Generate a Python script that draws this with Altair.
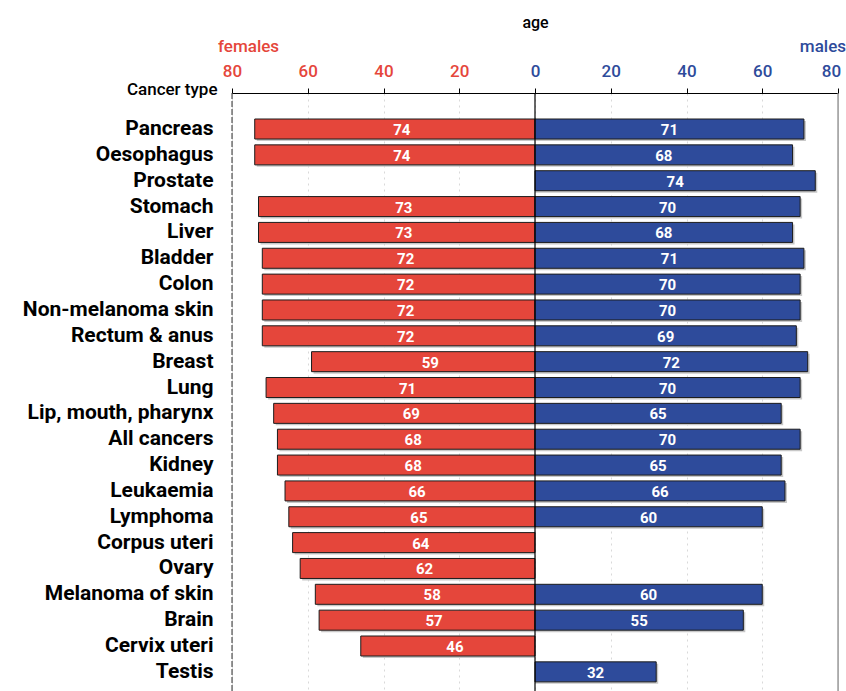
import altair as alt
import pandas as pd

# Median age at diagnosis by cancer type, females vs males
cancer_types = [
    "Pancreas", "Oesophagus", "Prostate", "Stomach", "Liver", "Bladder", "Colon",
    "Non-melanoma skin", "Rectum & anus", "Breast", "Lung", "Lip, mouth, pharynx",
    "All cancers", "Kidney", "Leukaemia", "Lymphoma", "Corpus uteri", "Ovary",
    "Melanoma of skin", "Brain", "Cervix uteri", "Testis",
]
female_age = [74, 74, None, 73, 73, 72, 72, 72, 72, 59, 71, 69, 68, 68, 66, 65, 64, 62, 58, 57, 46, None]
male_age = [71, 68, 74, 70, 68, 71, 70, 70, 69, 72, 70, 65, 70, 65, 66, 60, None, None, 60, 55, None, 32]

axis_ticks = [-80, -60, -40, -20, 0, 20, 40, 60, 80]

RED = "#e5463b"
BLUE = "#2e4b9b"
FONT = "Roboto"

rows = []
for name, f, m in zip(cancer_types, female_age, male_age):
    if f is not None:
        rows.append({"type": name, "sex": "females", "age": f, "pos": -f, "mid": -f / 2, "zero": 0})
    if m is not None:
        rows.append({"type": name, "sex": "males", "age": m, "pos": m, "mid": m / 2, "zero": 0})
df = pd.DataFrame(rows)

x_scale = alt.Scale(domain=[-80, 80], nice=False, zero=False)
y_scale = alt.Scale(domain=cancer_types, paddingInner=0.226, paddingOuter=0.68, align=0.74)
color_scale = alt.Scale(domain=["females", "males"], range=[RED, BLUE])

x_axis = alt.Axis(
    orient="top",
    values=axis_ticks,
    labelExpr="abs(datum.value)",
    labelColor={"condition": {"test": "datum.value < 0", "value": RED}, "value": BLUE},
    labelOffset={"condition": {"test": "datum.value == 80", "value": -7}, "value": 0},
    labelFont=FONT,
    labelFontSize=17,
    labelFontWeight=500,
    labelPadding=8,
    labelFlush=False,
    tickSize=5,
    tickColor="black",
    domainColor="black",
    domainWidth=1.2,
    grid=True,
    gridColor="#d9d9d9",
    gridDash=[2, 4],
    title="age",
    titleFont=FONT,
    titleFontSize=16,
    titleFontWeight=500,
    titleBaseline="alphabetic",
    titleY=-66,
)

y_axis = alt.Axis(
    labelFont=FONT,
    labelFontSize=21,
    labelFontWeight="bold",
    labelColor="black",
    labelPadding=19,
    labelLimit=0,
    ticks=False,
    domain=False,
    title="Cancer type",
    titleFont=FONT,
    titleFontSize=17,
    titleFontWeight=500,
    titleAngle=0,
    titleAlign="right",
    titleBaseline="alphabetic",
    titleX=-15,
    titleY=1,
)

base = alt.Chart(df)

shadow = base.mark_bar(color="#c8c8c8", xOffset=2, yOffset=2).encode(
    y=alt.Y("type:N", sort=cancer_types, scale=y_scale, axis=y_axis),
    x=alt.X("pos:Q", scale=x_scale, axis=x_axis),
    x2="zero:Q",
)

bars = base.mark_bar(stroke="#1c1c1c", strokeWidth=1).encode(
    y=alt.Y("type:N", sort=cancer_types, scale=y_scale),
    x=alt.X("pos:Q", scale=x_scale),
    x2="zero:Q",
    color=alt.Color("sex:N", scale=color_scale, legend=None),
)

label_style = dict(color="white", font=FONT, fontSize=15, fontWeight="bold", baseline="middle", dy=1)
label_enc = dict(
    y=alt.Y("type:N", sort=cancer_types, scale=y_scale),
    x=alt.X("mid:Q", scale=x_scale),
    text="age:Q",
)
female_labels = base.transform_filter("datum.sex == 'females'").mark_text(dx=7, **label_style).encode(**label_enc)
male_labels = base.transform_filter("datum.sex == 'males'").mark_text(**label_style).encode(**label_enc)

frame = pd.DataFrame({"x": [0]})
zero_rule = alt.Chart(frame).mark_rule(color="black", strokeWidth=1.2).encode(x=alt.X("x:Q", scale=x_scale))
left_rule = alt.Chart(frame).mark_rule(color="#333333", strokeDash=[6, 2], strokeWidth=1).encode(
    x=alt.datum(-80, scale=x_scale)
)
right_rule = alt.Chart(frame).mark_rule(color="#888888", strokeWidth=1.2).encode(x=alt.datum(80, scale=x_scale))

side_titles = pd.DataFrame({"label": ["females"]})
females_title = alt.Chart(side_titles).mark_text(
    text="females", color=RED, font=FONT, fontSize=17, fontWeight=500, align="left", baseline="alphabetic", dx=-14
).encode(x=alt.datum(-80, scale=x_scale), y=alt.value(-41))
males_title = alt.Chart(side_titles).mark_text(
    text="males", color=BLUE, font=FONT, fontSize=17, fontWeight=500, align="right", baseline="alphabetic", dx=8
).encode(x=alt.datum(80, scale=x_scale), y=alt.value(-41))

chart = alt.layer(
    shadow, bars, female_labels, male_labels, zero_rule, left_rule, right_rule, females_title, males_title
).properties(
    width=606,
    height=598,
    autosize=alt.AutoSizeParams(type="none"),
    padding={"left": 232, "top": 93, "right": 8, "bottom": 0},
).configure_view(stroke=None).configure(background="white")

chart.save("out.html", embed_options={"renderer": "svg", "actions": False})
